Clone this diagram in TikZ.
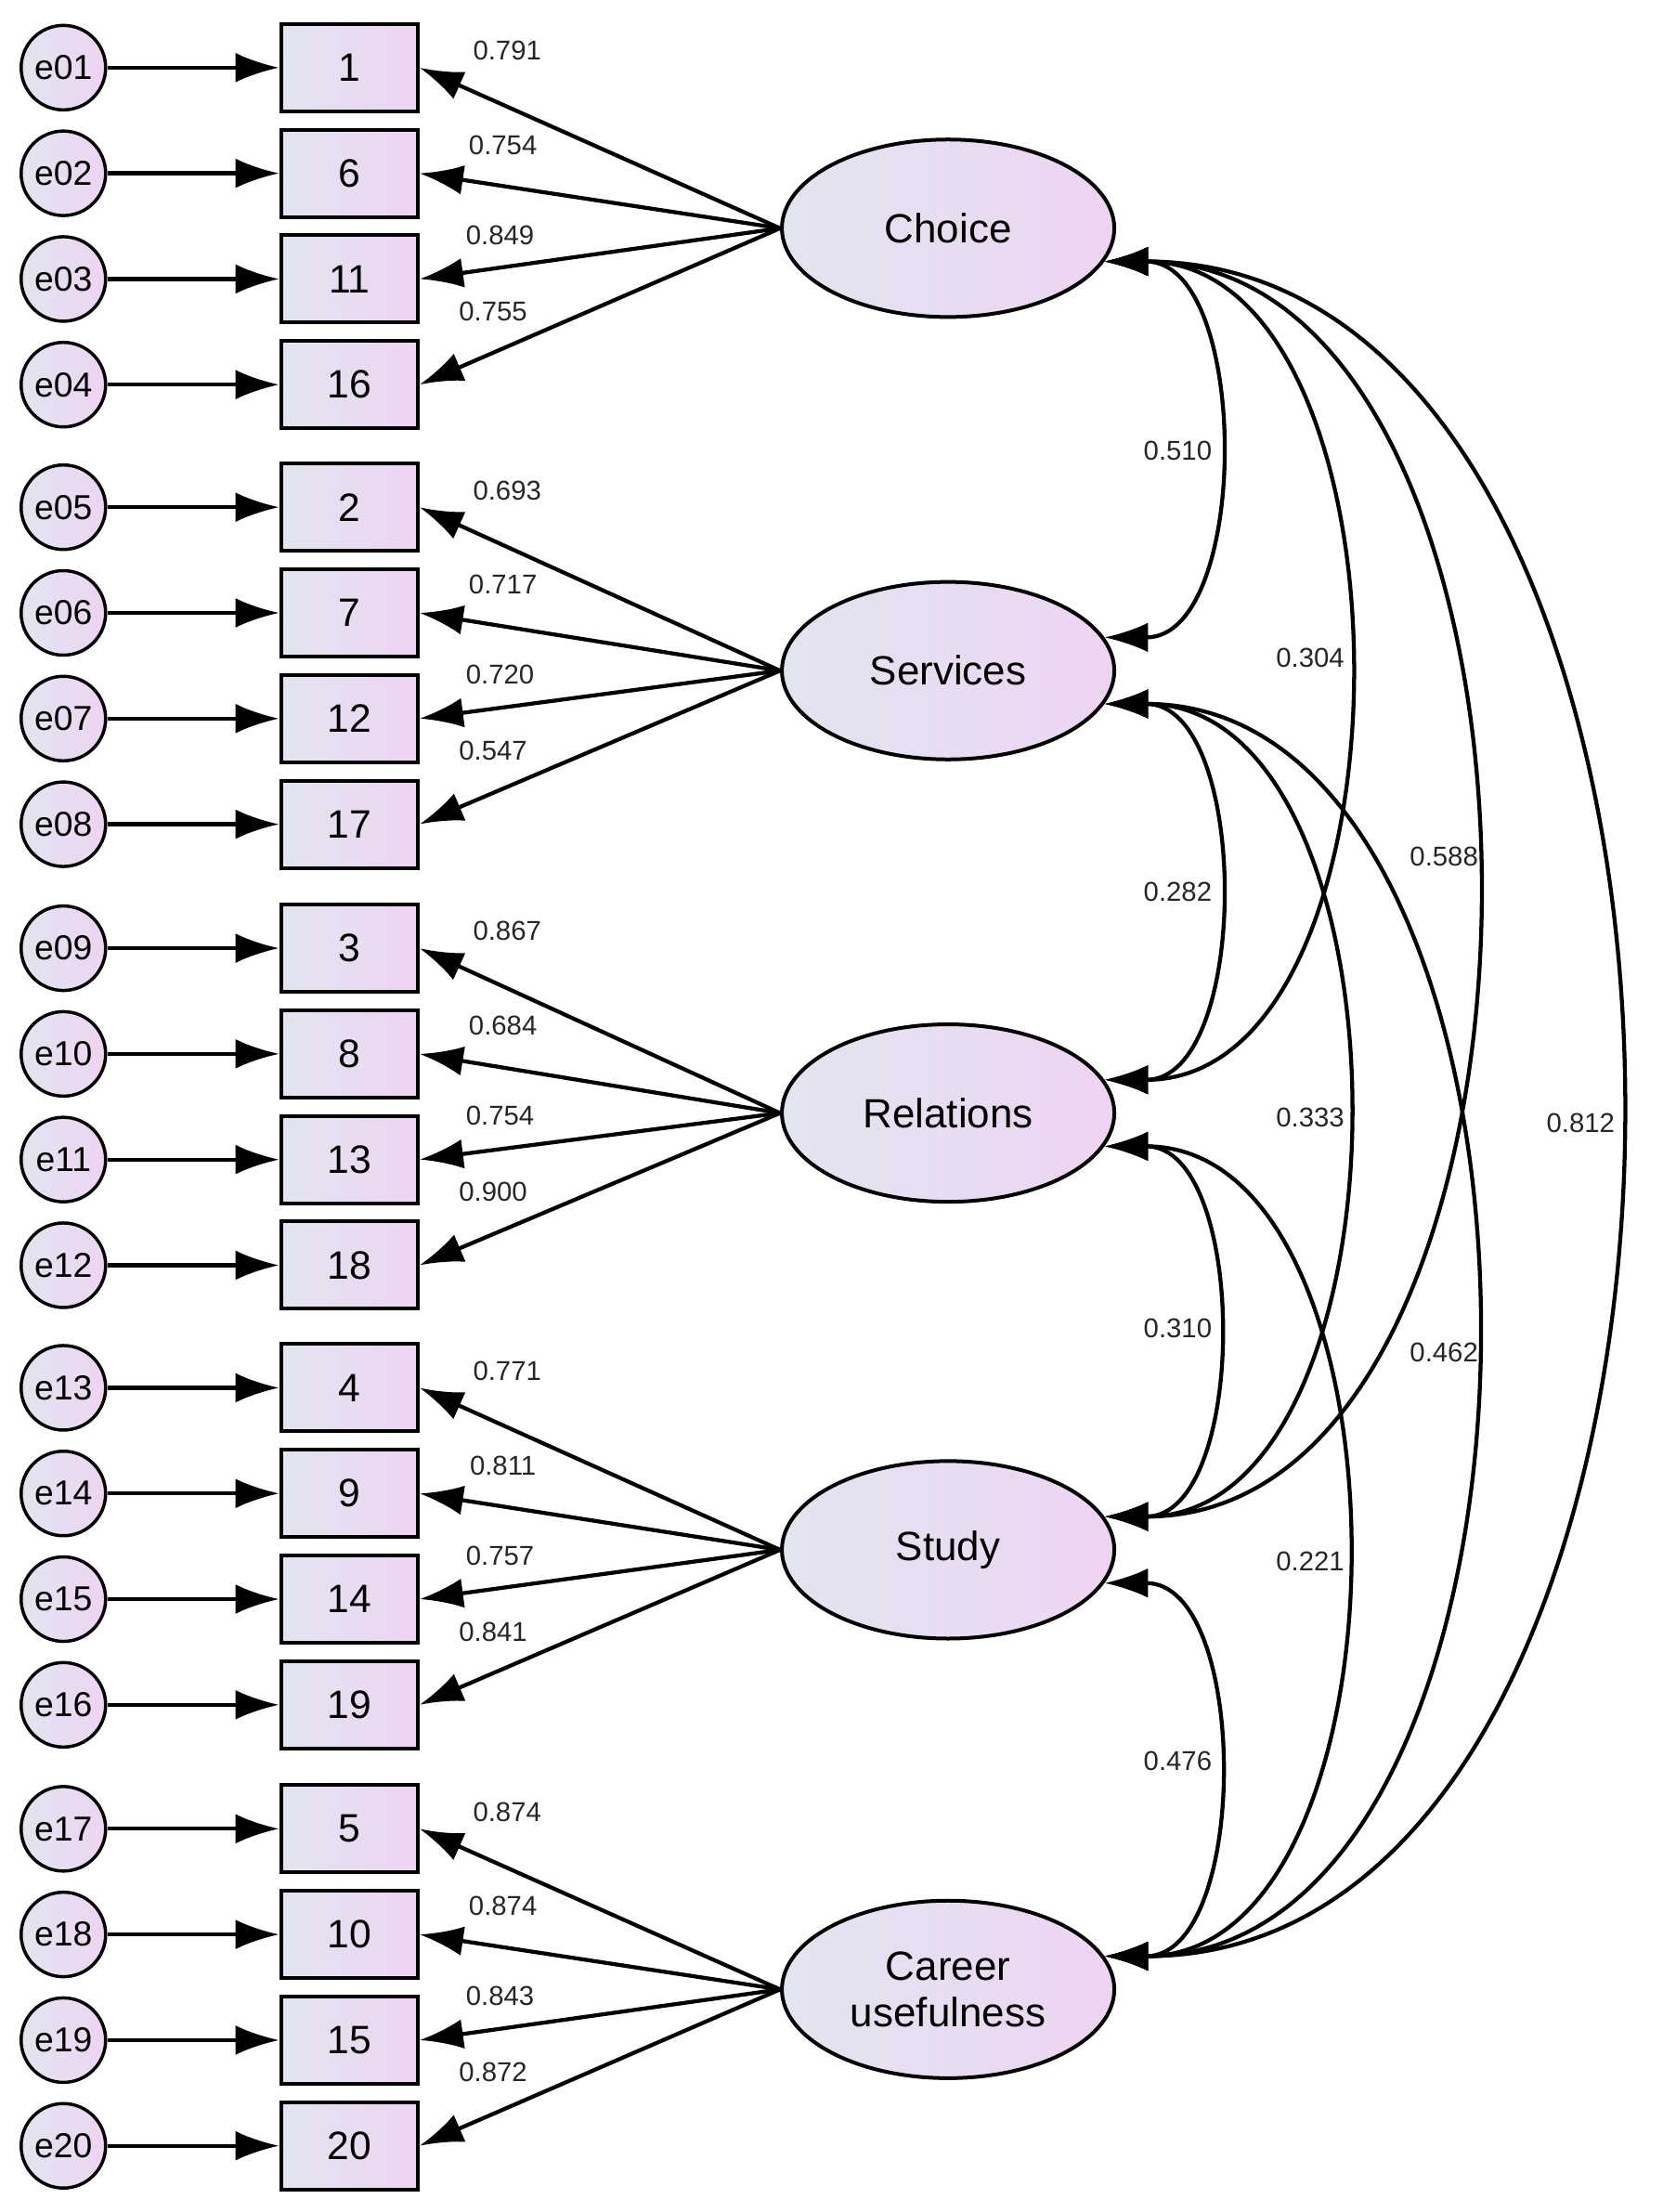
\documentclass[tikz,border=0pt]{standalone}
\usepackage{fontspec}
\setmainfont{Liberation Sans}
\usetikzlibrary{arrows.meta,shapes.geometric}
\definecolor{fillL}{RGB}{226,229,240}
\definecolor{fillR}{RGB}{238,212,242}
\tikzset{
  tip/.style={-{Latex[length=0.62cm,width=0.42cm]}},
  cov/.style={{Latex[length=0.62cm,width=0.42cm]}-{Latex[length=0.62cm,width=0.42cm]}, out=0, in=0},
  err/.style={circle, draw, line width=1.3pt, minimum size=1.2cm, inner sep=0pt, left color=fillL, right color=fillR, font=\fontsize{14}{14}\selectfont},
  item/.style={rectangle, draw, line width=1.5pt, minimum width=1.94cm, minimum height=1.24cm, left color=fillL, right color=fillR, font=\fontsize{16}{16}\selectfont},
  latent/.style={ellipse, draw, line width=1.5pt, minimum width=4.72cm, minimum height=2.52cm, left color=fillL, right color=fillR, font=\fontsize{16.5}{19}\selectfont, align=center},
  coef/.style={font=\fontsize{11}{11}\selectfont, text=black!85},
}
\begin{document}
\begin{tikzpicture}[x=0.02cm, y=-0.02cm, line width=1.6pt]
\useasboundingbox (0,0) rectangle (1180,1570);

% latent factors, indicators and errors
\foreach \g/\lat/\ly/\ty/\txt/\la/\lb/\lc/\ld in {
  1/Choice/162/48/Choice/0.791/0.754/0.849/0.755,
  2/Services/476/360/Services/0.693/0.717/0.720/0.547,
  3/Relations/790/673/Relations/0.867/0.684/0.754/0.900,
  4/Study/1100/985/Study/0.771/0.811/0.757/0.841,
  5/Career/1412/1298/Career\\usefulness/0.874/0.874/0.843/0.872}{
  \node[latent] at (673,\ly) (\lat) {\txt};
  \foreach \r/\val/\dy/\dx in {1/\la/12/360, 2/\lb/20/357, 3/\lc/31/355, 4/\ld/52/350}{
    \pgfmathtruncatemacro{\num}{\g+5*(\r-1)}
    \pgfmathtruncatemacro{\eno}{4*(\g-1)+\r}
    \pgfmathsetmacro{\yy}{\ty+75*(\r-1)}
    \node[err] at (45,\yy) (e\eno) {e\ifnum\eno<10 0\fi\eno};
    \node[item] at (248,\yy) (i\num) {\num};
    \draw[tip] (e\eno) -- (i\num);
    \draw[tip] (\lat.west) -- (i\num.east);
    \node[coef] at (\dx,\yy-\dy) {\val};
  }
}

% covariances
\draw[cov, looseness=1.0] (Choice.-12) to (Services.12);
\draw[cov, looseness=1.0] (Choice.-12) to (Relations.12);
\draw[cov, looseness=1.0] (Choice.-12) to (Study.12);
\draw[cov, looseness=1.03] (Choice.-12) to (Career.12);
\draw[cov, looseness=1.0] (Services.-12) to (Relations.12);
\draw[cov, looseness=1.0] (Services.-12) to (Study.12);
\draw[cov, looseness=1.0] (Services.-12) to (Career.12);
\draw[cov, looseness=1.0] (Relations.-12) to (Study.12);
\draw[cov, looseness=1.0] (Relations.-12) to (Career.12);
\draw[cov, looseness=1.0] (Study.-12) to (Career.12);

\node[coef] at (836,320) {0.510};
\node[coef] at (930,467) {0.304};
\node[coef] at (1025,608) {0.588};
\node[coef] at (1122,797) {0.812};
\node[coef] at (836,633) {0.282};
\node[coef] at (930,793) {0.333};
\node[coef] at (1025,960) {0.462};
\node[coef] at (836,943) {0.310};
\node[coef] at (930,1108) {0.221};
\node[coef] at (836,1250) {0.476};

\end{tikzpicture}
\end{document}
